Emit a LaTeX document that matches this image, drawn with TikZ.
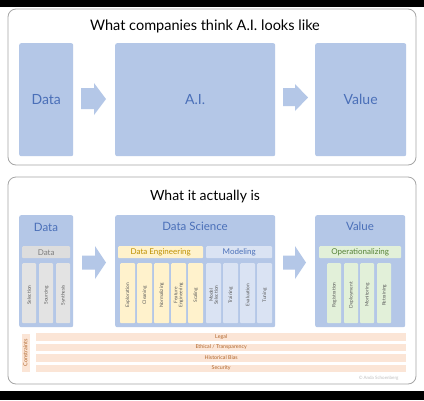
\documentclass[tikz,border=0pt]{standalone}
\usepackage{fontspec}
\setmainfont{Lato}
\definecolor{boxblue}{HTML}{B4C7E7}
\definecolor{txtblue}{HTML}{4A6FB8}
\definecolor{colblue}{HTML}{DAE3F3}
\definecolor{graybg}{HTML}{DDDDDD}
\definecolor{graycol}{HTML}{E3E3E3}
\definecolor{graytxt}{HTML}{7F7F7F}
\definecolor{yelbg}{HTML}{FFF2CC}
\definecolor{yeltxt}{HTML}{BF9000}
\definecolor{grnbg}{HTML}{E2F0D9}
\definecolor{grntxt}{HTML}{548235}
\definecolor{peach}{HTML}{FBE5D6}
\definecolor{peachtxt}{HTML}{B0652A}
\definecolor{coltxt}{HTML}{595959}
\definecolor{panelline}{HTML}{A6A6A6}
\tikzset{
  panel/.style={draw=panelline, line width=0.8pt, rounded corners=8pt, fill=white},
  bigbox/.style={fill=boxblue, rounded corners=2pt, anchor=north west, inner sep=0pt},
  hdr/.style={rounded corners=1pt, anchor=north west, inner sep=0pt},
  colbox/.style={rounded corners=1pt, anchor=north west, inner sep=0pt, minimum width=14pt, minimum height=60pt},
  coltext/.style={rotate=90, text=coltxt, font=\fontsize{4.8}{5}\selectfont, align=center, inner sep=0pt},
  band/.style={fill=peach, anchor=north west, inner sep=0pt, minimum width=370pt, minimum height=7.5pt},
  bandtxt/.style={text=peachtxt, font=\fontsize{5.3}{6}\selectfont},
  arrowc/.style={fill=boxblue},
}
\begin{document}
\begin{tikzpicture}[x=1pt,y=-1pt]
\useasboundingbox (0,0) rectangle (424,400);
\fill[black] (0,0) rectangle (424,7);
\fill[black] (0,391) rectangle (424,400);
\fill[white] (0,7) rectangle (424,391);
% ---------- top panel
\draw[panel] (8,9) rectangle (416,165);
\node[font=\fontsize{14.5}{16}\selectfont] (t1) at (205,26) {What companies think A.I. looks like};
\node[bigbox, minimum width=54pt, minimum height=113pt] (tdata) at (19,43) {};
\node[bigbox, minimum width=160pt, minimum height=113pt] (tai) at (115,43) {};
\node[bigbox, minimum width=91pt, minimum height=113pt] (tval) at (315,43) {};
\node[text=txtblue, font=\fontsize{14}{16}\selectfont] (tdatal) at (tdata.center) {Data};
\node[text=txtblue, font=\fontsize{14}{16}\selectfont] (tail) at (tai.center) {A.I.};
\node[text=txtblue, font=\fontsize{14}{16}\selectfont] (tvall) at (tval.center) {Value};
\fill[arrowc] (81,88) -- (94,88) -- (94,83) -- (106,99) -- (94,115) -- (94,109) -- (81,109) -- cycle;
\fill[arrowc] (283,88) -- (295,88) -- (295,84) -- (308,97.5) -- (295,111) -- (295,106) -- (283,106) -- cycle;
% ---------- bottom panel
\draw[panel] (8,177) rectangle (416,384);
\node[font=\fontsize{14}{16}\selectfont] (t2) at (205,197) {What it actually is};
% Data
\node[bigbox, minimum width=54pt, minimum height=112pt] (bdata) at (19,215) {};
\node[text=txtblue, font=\fontsize{11.5}{13}\selectfont] (bdatal) at (46,227) {Data};
\node[hdr, fill=graybg, minimum width=48pt, minimum height=12pt] (dhdr) at (22,246) {};
\node[text=graytxt, font=\fontsize{8}{9}\selectfont] at (dhdr.center) {Data};
\node[colbox, fill=graycol] (c1) at (22,263) {};
\node[colbox, fill=graycol] (c2) at (39,263) {};
\node[colbox, fill=graycol] (c3) at (56,263) {};
\node[coltext] at ([yshift=-2pt]c1.center) {Selection};
\node[coltext] at ([yshift=-2pt]c2.center) {Sourcing};
\node[coltext] at ([yshift=-2pt]c3.center) {Synthesis};
% Data Science
\node[bigbox, minimum width=160pt, minimum height=112pt] (bds) at (115,215) {};
\node[text=txtblue, font=\fontsize{11.5}{13}\selectfont] (bdsl) at (195,226) {Data Science};
\node[hdr, fill=yelbg, minimum width=85pt, minimum height=12pt] (dehdr) at (118,246) {};
\node[text=yeltxt, font=\fontsize{8}{9}\selectfont] at (dehdr.center) {Data Engineering};
\node[hdr, fill=colblue, minimum width=66pt, minimum height=12pt] (mhdr) at (206,246) {};
\node[text=txtblue, font=\fontsize{8}{9}\selectfont] at (mhdr.center) {Modeling};
\node[colbox, fill=yelbg, minimum width=15pt] (e1) at (120,263) {};
\node[colbox, fill=yelbg, minimum width=15pt] (e2) at (137,263) {};
\node[colbox, fill=yelbg, minimum width=15pt] (e3) at (154,263) {};
\node[colbox, fill=yelbg, minimum width=15pt] (e4) at (171,263) {};
\node[colbox, fill=yelbg, minimum width=15pt] (e5) at (188,263) {};
\node[colbox, fill=colblue, minimum width=15pt] (m1) at (206,263) {};
\node[colbox, fill=colblue, minimum width=15pt] (m2) at (223,263) {};
\node[colbox, fill=colblue, minimum width=15pt] (m3) at (240,263) {};
\node[colbox, fill=colblue, minimum width=15pt] (m4) at (257,263) {};
\node[coltext] at ([yshift=-2pt]e1.center) {Exploration};
\node[coltext] at ([yshift=-2pt]e2.center) {Cleaning};
\node[coltext] at ([yshift=-2pt]e3.center) {Normalizing};
\node[coltext] at ([yshift=-2pt]e4.center) {Feature\\Engineering};
\node[coltext] at ([yshift=-2pt]e5.center) {Scaling};
\node[coltext] at ([yshift=-2pt]m1.center) {Model\\Selection};
\node[coltext] at ([yshift=-2pt]m2.center) {Training};
\node[coltext] at ([yshift=-2pt]m3.center) {Evaluation};
\node[coltext] at ([yshift=-2pt]m4.center) {Tuning};
% Value
\node[bigbox, minimum width=90pt, minimum height=112pt] (bval) at (315,215) {};
\node[text=txtblue, font=\fontsize{11.5}{13}\selectfont] (bvall) at (360,226) {Value};
\node[hdr, fill=grnbg, minimum width=82pt, minimum height=12pt] (ohdr) at (319,246) {};
\node[text=grntxt, font=\fontsize{8}{9}\selectfont] at (ohdr.center) {Operationalizing};
\node[colbox, fill=grnbg] (o1) at (327,263) {};
\node[colbox, fill=grnbg] (o2) at (344,263) {};
\node[colbox, fill=grnbg] (o3) at (360,263) {};
\node[colbox, fill=grnbg] (o4) at (377,263) {};
\node[coltext] at ([yshift=-2pt]o1.center) {Registration};
\node[coltext] at ([yshift=-2pt]o2.center) {Deployment};
\node[coltext] at ([yshift=-2pt]o3.center) {Monitoring};
\node[coltext] at ([yshift=-2pt]o4.center) {Retraining};
% arrows
\fill[arrowc] (82,255.5) -- (95,255.5) -- (95,246) -- (106,262.5) -- (95,279) -- (95,269.5) -- (82,269.5) -- cycle;
\fill[arrowc] (283,255.5) -- (295,255.5) -- (295,246) -- (306,262.5) -- (295,279) -- (295,269.5) -- (283,269.5) -- cycle;
% constraints
\node[fill=peach, inner sep=0pt, minimum width=38pt, minimum height=8pt, rotate=90] (cons) at (25.5,352.5) {};
\node[text=peachtxt, rotate=90, font=\fontsize{5.5}{6}\selectfont] at (cons.center) {Constraints};
\node[band] (b1) at (36,333) {};
\node[band] (b2) at (36,343.5) {};
\node[band] (b3) at (36,354) {};
\node[band] (b4) at (36,364.5) {};
\node[bandtxt] at (b1.center) {Legal};
\node[bandtxt] at (b2.center) {Ethical / Transparency};
\node[bandtxt] at (b3.center) {Historical Bias};
\node[bandtxt] at (b4.center) {Security};
\node[text=black!25, font=\fontsize{4.5}{5}\selectfont, anchor=east] (copy) at (402,378) {© Anda Schoenberg};
\end{tikzpicture}
\end{document}
